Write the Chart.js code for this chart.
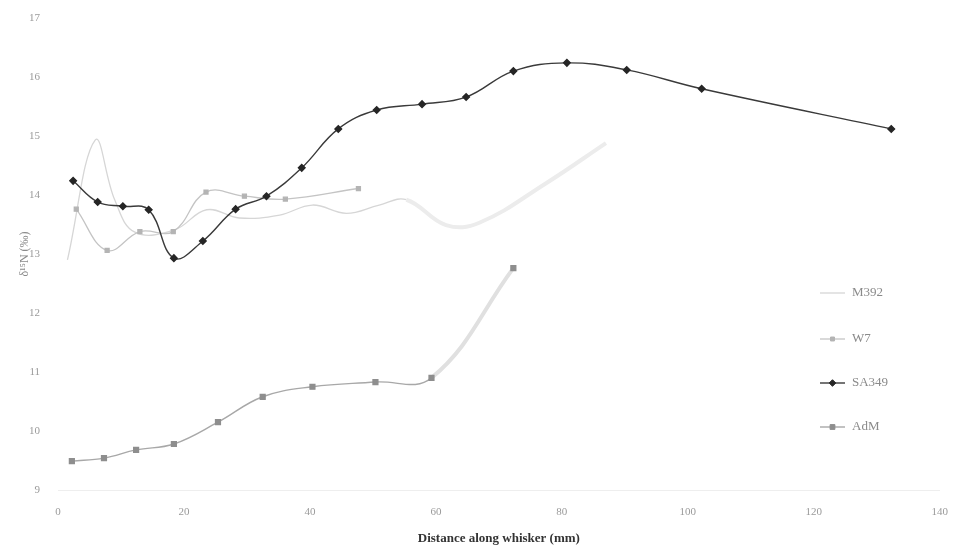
<!DOCTYPE html>
<html>
<head>
<meta charset="utf-8">
<script src="https://cdn.jsdelivr.net/npm/chart.js@4/dist/chart.umd.min.js"></script>
<style>
  html, body { margin: 0; padding: 0; background: #fff; }
  #wrap { width: 956px; height: 552px; }
</style>
</head>
<body>
<div id="wrap"><canvas id="c" width="956" height="552"></canvas></div>
<script>
// Whisker δ15N profiles, distance (mm) vs δ15N (‰)
const m392X = [1.5, 5.9, 9.0, 12.2, 18.5, 23.6, 28.8, 35.2, 40.4, 45.8, 51.0, 55.3, 61.6, 66.9, 77.5, 87.0];
const m392Y = [12.9, 14.93, 13.92, 13.37, 13.41, 13.75, 13.61, 13.66, 13.83, 13.69, 13.83, 13.92, 13.49, 13.53, 14.2, 14.88];

const w7X = [2.9, 7.8, 13.0, 18.3, 23.5, 29.6, 36.1, 47.7];
const w7Y = [13.76, 13.06, 13.38, 13.38, 14.05, 13.98, 13.93, 14.11];

const sa349X = [2.4, 6.3, 10.3, 14.4, 18.4, 23.0, 28.2, 33.1, 38.7, 44.5, 50.6, 57.8, 64.8, 72.3, 80.8, 90.3, 102.2, 132.3];
const sa349Y = [14.24, 13.88, 13.81, 13.75, 12.93, 13.22, 13.76, 13.98, 14.46, 15.12, 15.44, 15.54, 15.66, 16.10, 16.24, 16.12, 15.80, 15.12];

const admX = [2.2, 7.3, 12.4, 18.4, 25.4, 32.5, 40.4, 50.4, 59.3, 72.3];
const admY = [9.49, 9.54, 9.68, 9.78, 10.15, 10.58, 10.75, 10.83, 10.90, 12.76];

const seriesNames = ['M392', 'W7', 'SA349', 'AdM'];
const xTicks = [0, 20, 40, 60, 80, 100, 120, 140];
const yTicks = [9, 10, 11, 12, 13, 14, 15, 16, 17];

const pts = (xs, ys) => xs.map((x, i) => ({ x: x, y: ys[i] }));

const serif = "'Liberation Serif', 'DejaVu Serif', serif";

// legend drawn inside the plot area, stacked vertically on the right
const insideLegend = {
  id: 'insideLegend',
  afterDraw(chart) {
    const ctx = chart.ctx;
    const rows = [293, 339, 383, 427];
    const x0 = 820, x1 = 845, tx = 852;
    ctx.save();
    chart.data.datasets.forEach((ds, i) => {
      const y = rows[i];
      ctx.strokeStyle = ds.legendLine;
      ctx.lineWidth = ds.borderWidth;
      ctx.beginPath();
      ctx.moveTo(x0, y);
      ctx.lineTo(x1, y);
      ctx.stroke();
      if (ds.pointRadius > 0) {
        ctx.fillStyle = ds.pointBackgroundColor;
        ctx.strokeStyle = ds.pointBorderColor;
        ctx.lineWidth = 1;
        Chart.helpers.drawPoint(ctx, {
          pointStyle: ds.pointStyle,
          radius: ds.pointRadius,
          rotation: 0,
          borderWidth: 1
        }, (x0 + x1) / 2, y);
      }
      ctx.fillStyle = ds.legendText;
      ctx.font = "13px " + serif;
      ctx.textBaseline = 'middle';
      ctx.textAlign = 'left';
      ctx.fillText(ds.label, tx, y);
    });
    ctx.restore();
  }
};

new Chart(document.getElementById('c'), {
  type: 'line',
  data: {
    datasets: [
      {
        label: seriesNames[0],
        data: pts(m392X, m392Y),
        borderColor: '#d6d6d6',
        legendLine: '#d6d6d6',
        legendText: '#8a8a8a',
        borderWidth: 1.3,
        pointRadius: 0,
        tension: 0.4,
        order: 4,
        segment: {
          borderColor: c => c.p0.parsed.x >= 55 ? '#ececec' : undefined,
          borderWidth: c => c.p0.parsed.x >= 55 ? 4 : undefined
        }
      },
      {
        label: seriesNames[1],
        data: pts(w7X, w7Y),
        borderColor: '#c4c4c4',
        legendLine: '#c4c4c4',
        legendText: '#8a8a8a',
        borderWidth: 1.3,
        pointStyle: 'rect',
        pointRadius: 2.8,
        pointBackgroundColor: '#b4b4b4',
        pointBorderColor: '#b4b4b4',
        tension: 0.4,
        order: 3
      },
      {
        label: seriesNames[2],
        data: pts(sa349X, sa349Y),
        borderColor: '#3a3a3a',
        legendLine: '#3a3a3a',
        legendText: '#8a8a8a',
        borderWidth: 1.4,
        pointStyle: 'rectRot',
        pointRadius: 3.3,
        pointBackgroundColor: '#262626',
        pointBorderColor: '#262626',
        tension: 0.4,
        order: 1
      },
      {
        label: seriesNames[3],
        data: pts(admX, admY),
        borderColor: '#a8a8a8',
        legendLine: '#a8a8a8',
        legendText: '#8a8a8a',
        borderWidth: 1.4,
        pointStyle: 'rect',
        pointRadius: 3.4,
        pointBackgroundColor: '#8e8e8e',
        pointBorderColor: '#8e8e8e',
        tension: 0.4,
        order: 2,
        segment: {
          borderColor: c => c.p0.parsed.x >= 59 ? '#e0e0e0' : undefined,
          borderWidth: c => c.p0.parsed.x >= 59 ? 4 : undefined
        }
      }
    ]
  },
  options: {
    responsive: false,
    animation: false,
    layout: { padding: { top: 18, right: 3, left: 0, bottom: 0 } },
    plugins: {
      legend: { display: false },
      tooltip: { enabled: false }
    },
    scales: {
      x: {
        type: 'linear',
        min: 0,
        max: 140,
        afterBuildTicks: s => { s.ticks = xTicks.map(v => ({ value: v })); },
        grid: { display: false },
        border: { display: true, color: '#eeeeee', width: 1 },
        ticks: {
          color: '#9a9a9a',
          font: { family: serif, size: 11 },
          padding: 8,
          maxRotation: 0
        },
        title: {
          display: true,
          text: 'Distance along whisker (mm)',
          color: '#333333',
          font: { family: serif, size: 13, weight: 'bold' },
          padding: { top: 0, bottom: 6 }
        },
        afterFit: s => { s.height = 62; }
      },
      y: {
        type: 'linear',
        min: 9,
        max: 17,
        afterBuildTicks: s => { s.ticks = yTicks.map(v => ({ value: v })); },
        grid: { display: false },
        border: { display: false },
        ticks: {
          color: '#9a9a9a',
          font: { family: serif, size: 11 },
          padding: 10
        },
        title: {
          display: true,
          text: 'δ¹⁵N (‰)',
          color: '#8a8a8a',
          font: { family: serif, size: 12 },
          padding: { top: 18, bottom: 0 }
        },
        afterFit: s => { s.width = 58; }
      }
    }
  },
  plugins: [insideLegend]
});
</script>
</body>
</html>
